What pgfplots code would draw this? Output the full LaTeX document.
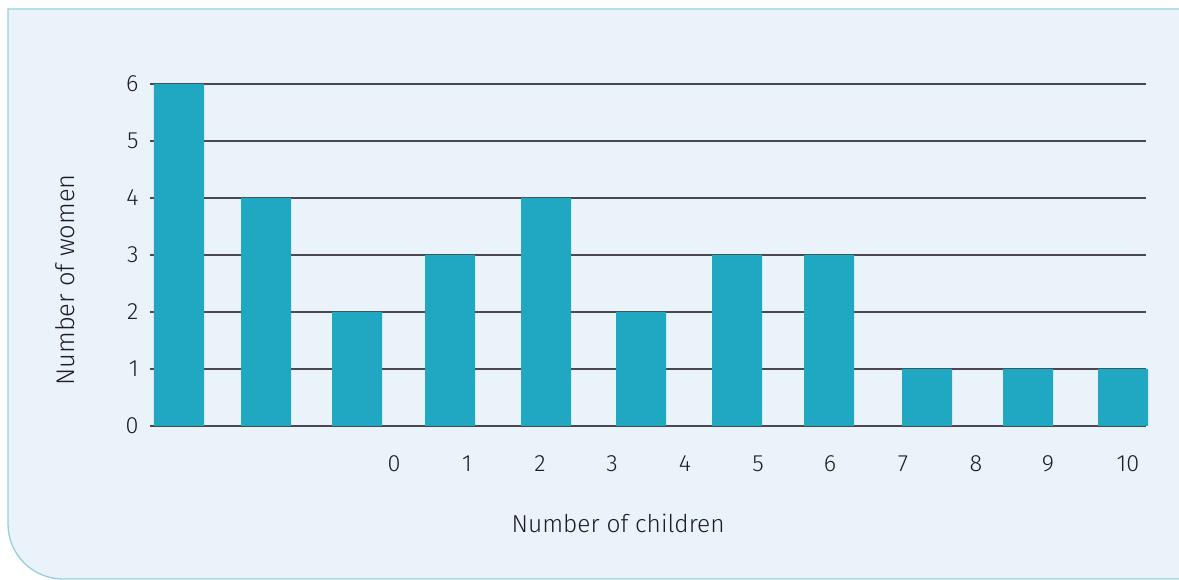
\documentclass[border=0pt]{standalone}
\usepackage{pgfplots}
\pgfplotsset{compat=1.18}
\usepackage{fontspec}
\setmainfont{Fira Sans}[UprightFont=* Light]
\definecolor{barc}{RGB}{32,168,195}
\definecolor{panel}{RGB}{234,243,249}
\definecolor{panelb}{RGB}{150,208,220}
\definecolor{gridc}{RGB}{72,72,78}
\definecolor{txt}{RGB}{30,30,33}
\begin{document}
\begin{tikzpicture}[x=1pt,y=1pt]
\useasboundingbox (0,0) rectangle (1179,580);
\fill[white] (0,0) rectangle (1179,580);
\fill[panel] (1179,571) -- (8,571) -- (8,56) arc[start angle=180,end angle=270,radius=55] -- (1179,1) -- cycle;
\draw[panelb,line width=1.3pt] (1179,571) -- (8,571) -- (8,56) arc[start angle=180,end angle=270,radius=55] -- (1179,1);
\begin{axis}[
  at={(150pt,154pt)}, anchor=south west,
  x=1pt, y=57pt,
  xmin=150, xmax=1146, ymin=0, ymax=6,
  axis line style={draw=none},
  ymajorgrids,
  major grid style={draw=gridc,line width=1.3pt},
  ytick={0,1,2,3,4,5,6},
  xtick={394,467,540,612,685,758,830,903,976,1048,1128},
  xticklabels={0,1,2,3,4,5,6,7,8,9,10},
  major tick length=0pt,
  tick label style={font=\fontsize{23.5}{27}\selectfont, text=txt},
  xticklabel style={anchor=north, yshift=-26pt},
  yticklabel style={anchor=east, xshift=-8pt},
  /pgf/number format/assume math mode=true,
  xlabel={Number of children},
  ylabel={Number of women},
  every axis x label/.style={at={(axis description cs:0.47,-0.2836)}, anchor=center, font=\fontsize{24.5}{28}\selectfont, text=txt},
  every axis y label/.style={at={(axis description cs:-0.0853,0.427)}, rotate=90, anchor=center, font=\fontsize{25.5}{29}\selectfont, text=txt},
  clip=false,
]
\addplot[ybar, bar width=50pt, fill=barc, draw=none] coordinates {
 (179,6) (266,4) (357,2) (450,3) (546,4) (641,2) (737,3) (829,3) (927,1) (1028,1) (1123,1)
};
\end{axis}
\end{tikzpicture}
\end{document}
